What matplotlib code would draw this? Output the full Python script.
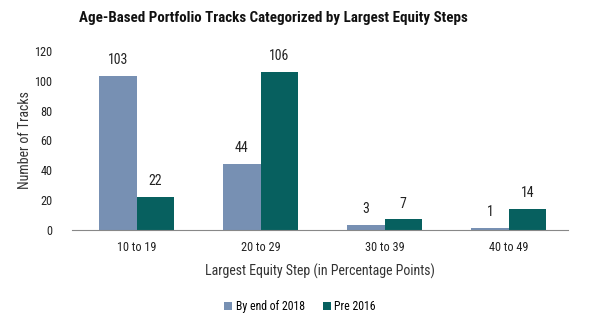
import matplotlib.pyplot as plt
import numpy as np

categories = ['10 to 19', '20 to 29', '30 to 39', '40 to 49']
by_end_2018 = [103, 44, 3, 1]
pre_2016 = [22, 106, 7, 14]
yticks = [0, 20, 40, 60, 80, 100, 120]

plt.rcParams['font.family'] = ['Roboto Condensed', 'DejaVu Sans']

c_blue = '#7790b3'
c_teal = '#07605f'

fig = plt.figure(figsize=(6, 3.28), dpi=100)
ax = fig.add_axes([0.12, 0.299, 0.827, 0.546])

x = np.arange(len(categories))
w = 0.3
b1 = ax.bar(x - w / 2, by_end_2018, w, color=c_blue, label='By end of 2018')
b2 = ax.bar(x + w / 2, pre_2016, w, color=c_teal, label='Pre 2016')

for bars in (b1, b2):
    for b in bars:
        ax.text(b.get_x() + b.get_width() / 2, b.get_height() + 6, str(int(b.get_height())),
                ha='center', va='bottom', fontsize=10, color='#222222')

ax.set_xlim(-0.52, 3.48)
ax.set_ylim(0, 120)
ax.set_yticks(yticks)
ax.set_xticks(x, categories)
ax.tick_params(axis='both', length=0, labelsize=8.8, colors='#222222')
ax.tick_params(axis='x', pad=8)
ax.tick_params(axis='y', pad=14)
for s in ['top', 'right', 'left']:
    ax.spines[s].set_visible(False)
ax.spines['bottom'].set_color('#888888')

ax.set_ylabel('Number of Tracks', fontsize=10, color='#333333', labelpad=2)
ax.set_xlabel('Largest Equity Step (in Percentage Points)', fontsize=10, color='#333333', labelpad=7)

fig.suptitle('Age-Based Portfolio Tracks Categorized by Largest Equity Steps',
             x=0.456, y=0.965, fontsize=10.8, fontweight='bold', color='#111111')

fig.legend(loc='center', bbox_to_anchor=(0.5, 0.065), ncol=2, frameon=False,
           fontsize=8.5, handlelength=0.7, handleheight=0.7, handletextpad=0.3, columnspacing=1.5)

fig.savefig('out.png', dpi=100)
